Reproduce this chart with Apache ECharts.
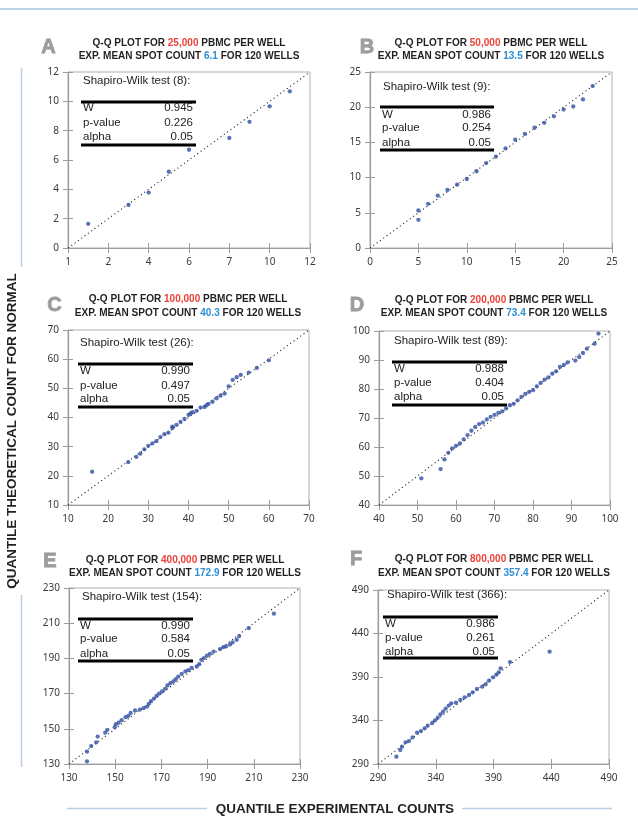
<!DOCTYPE html>
<html><head><meta charset="utf-8">
<script src="https://cdn.jsdelivr.net/npm/echarts@6/dist/echarts.min.js"></script>
<style>html,body{margin:0;padding:0;background:#fff}#c{width:638px;height:816px}</style>
</head><body><div id="c"></div>
<script>
// ---------- data ----------
const panelLetters = ['A','B','C','D','E','F'];
const cellsPerWell = ['25,000','50,000','100,000','200,000','400,000','800,000'];
const meanSpotCount = ['6.1','13.5','40.3','73.4','172.9','357.4'];
const wellCount = [120,120,120,120,120,120];
const swSize = [8,9,26,89,154,366];
const swW = ['0.945','0.986','0.990','0.988','0.990','0.986'];
const swP = ['0.226','0.254','0.497','0.404','0.584','0.261'];
const swAlpha = ['0.05','0.05','0.05','0.05','0.05','0.05'];
const axisMin = [0,0,10,40,130,290];
const axisMax = [12,25,70,100,230,490];
const axisStep = [2,5,10,10,20,50];
const xTickLabelsA = ['1','2','4','6','7','10','12'];

const expA = [1,3,4,5,6,8,9,10,11];
const theoA = [1.65,2.94,3.78,5.2,6.7,7.5,8.6,9.66,10.68];

const expB = [5,5,6,7,8,9,10,11,12,13,14,15,16,17,18,19,20,21,22,23];
const theoB = [4.0,5.33,6.27,7.45,8.25,9.0,9.8,10.9,12.07,12.97,14.15,15.38,16.2,17.08,17.78,18.7,19.67,20.1,21.1,23.0];

const expC = [16,25,27,28,29,30,31,32,33,34,35,36,36,37,38,39,40,40.5,41,42,43,44,44.5,45,46,47,48,49,50,51,52,53,55,57,60];
const theoC = [21.4,24.7,26.5,27.6,29.1,30.3,31.1,31.9,33.3,34.3,34.8,36.4,36.9,37.5,38.5,39.5,40.9,41.4,41.8,42.3,43.4,43.6,44.2,44.7,45.4,46.6,47.5,48.2,50.7,52.9,53.8,54.6,55.4,57,59.6];

const expD = [51,56,57,58,59,60,61,62,63,64,65,66,67,68,69,70,71,72,73,74,75,76,77,78,79,80,81,82,83,84,85,86,87,88,89,91,92,93,94,96,97];
const theoD = [49.2,52.4,55.7,58,59.5,60.4,61.2,62.6,64.1,65.6,66.9,67.9,68.4,69.5,70.4,71.1,71.8,72.3,73.3,74.4,74.9,76.1,77.3,78.3,79,79.6,80.9,82.1,83.2,84,85.3,86.1,87.6,88.3,89.2,89.8,91,92.4,93.9,95.6,99.1];

const expE = [137.8,137.8,139.6,141.8,142.4,145.7,146.6,149.8,150.3,151.5,152.8,154.5,155.7,156.7,158.6,160.7,162.3,163.8,164.6,165.5,166.8,167.9,169,170.3,171.6,172.6,173.9,175.2,176.2,177.3,178.8,180.4,181.7,183.1,185.3,186.4,187.3,188.4,189.7,191,192.6,195.4,196.8,198,199.7,200.8,202.6,203.7,207.8,218.7];
const theoE = [131.5,137,140.2,142.3,145.6,147.8,149.4,150.9,152.6,153.5,154.9,156.6,157.4,159,160.4,160.9,161.7,162.6,164.2,165.7,167.2,168.7,170,171.2,172.7,174.6,175.9,176.9,178.2,179.7,181.2,182.6,183.3,184.6,185.4,186.7,189.2,190.2,191.5,192.6,193.9,195.3,196.4,196.8,197.9,199.1,200.6,202.7,207.2,215.4];

const expF = [305.9,309.3,310.8,313.9,316.8,320,323.8,327.2,330.4,333,337,339.4,341.7,344,346.3,348.6,351.2,353.5,357.5,361.3,365,368.8,372,375.7,380.3,383.2,386.1,389.6,392.5,394.5,396.2,404.3,438.6];
const theoF = [298.4,306.1,309.9,314.9,316.4,320.7,326,327.9,331,334.1,337.1,340.2,343.3,347.1,350.2,353.6,357.1,359.7,360.5,363.6,366.6,369.3,372.4,376.2,378.9,381.6,385.8,389.6,392.7,395.4,400,407.2,419.1];

const expAll = [expA,expB,expC,expD,expE,expF];
const theoAll = [theoA,theoB,theoC,theoD,theoE,theoF];

const yAxisTitle = 'QUANTILE THEORETICAL COUNT FOR NORMAL';
const xAxisTitle = 'QUANTILE EXPERIMENTAL COUNTS';

// ---------- layout ----------
const grids = [
  {left:68, top:72, width:242, height:176},
  {left:370, top:72, width:242, height:176},
  {left:68, top:330, width:241, height:175},
  {left:379, top:331, width:231, height:174},
  {left:69, top:588, width:231, height:176},
  {left:378, top:590, width:231, height:174}
];
const letterPos = [[48.5,47.5],[367,47.5],[54.5,305],[357,305],[50,561],[356,559]];
const titlePos = [[189,43,56],[491,43,56],[188,299,313],[494,300,313],[185,560,573],[494,559,573]];
const tablePos = [
  {tx:83, ty:81, top:102, bot:145, x1:81, x2:196, rows:[108,123,137]},
  {tx:383, ty:87, top:107, bot:150, x1:380, x2:494, rows:[115,128,143]},
  {tx:80, ty:343, top:364, bot:407, x1:78, x2:193, rows:[371,386,399]},
  {tx:394, ty:341, top:362, bot:405, x1:392, x2:507, rows:[369,383,397]},
  {tx:82, ty:597, top:619, bot:661, x1:78, x2:193, rows:[626,639,654]},
  {tx:387, ty:595, top:617, bot:658, x1:383, x2:498, rows:[624,638,652]}
];

const RED = '#ec4138', BLUE = '#2b8fd3', DOT = '#2f4ea3', AX = '#9c9c9c';
const tickFont = 'Noto Sans';
const tf = 'bold 11.5px "Liberation Sans", Arial, sans-serif';
// horizontal condensing factor so the title matches the narrow typeface of the original
const mctx = document.createElement('canvas').getContext('2d');
mctx.font = tf;
const titleScale = 193 / mctx.measureText('Q-Q PLOT FOR 25,000 PBMC PER WELL').width;

function baseAxis(i, isX) {
  return {
    type:'value', gridIndex:i, min:axisMin[i], max:axisMax[i], interval:axisStep[i],
    position: isX ? 'bottom' : 'left',
    axisLine:{show:true, onZero:false, lineStyle:{color:AX, width:1.2}},
    axisTick:{show:true, length:5, lineStyle:{color:AX, width:1}},
    splitLine:{show:false},
    axisLabel:{fontSize:10, color:'#3a3a3a', margin:9, fontFamily:tickFont,
      formatter: (isX && i===0) ? (v => xTickLabelsA[Math.round((v-axisMin[0])/axisStep[0])]) : (v => String(v))}
  };
}
function innerTickAxis(i, isX) {
  return {
    type:'value', gridIndex:i, min:axisMin[i], max:axisMax[i], interval:axisStep[i],
    position: isX ? 'bottom' : 'left',
    axisLine:{show:false}, splitLine:{show:false}, axisLabel:{show:false},
    axisTick:{show:true, inside:true, length:5, lineStyle:{color:AX, width:1}}
  };
}

const option = {
  animation:false,
  backgroundColor:'#fff',
  grid: grids.map(g => Object.assign({show:true, borderColor:'#b0b0b0', borderWidth:1, backgroundColor:'transparent'}, g)),
  xAxis: grids.map((g,i) => baseAxis(i,true)).concat(grids.map((g,i) => innerTickAxis(i,true))),
  yAxis: grids.map((g,i) => baseAxis(i,false)).concat(grids.map((g,i) => innerTickAxis(i,false))),
  series: [],
  graphic: []
};

grids.forEach((g,i) => {
  option.series.push({
    type:'line', xAxisIndex:i, yAxisIndex:i, symbol:'none', silent:true,
    data:[[axisMin[i],axisMin[i]],[axisMax[i],axisMax[i]]],
    lineStyle:{color:'#222', width:1.1, type:[1.1,3]}, z:1
  });
  option.series.push({
    type:'scatter', xAxisIndex:i, yAxisIndex:i, symbolSize:4.3,
    itemStyle:{color:DOT},
    data: expAll[i].map((x,k) => [x, theoAll[i][k]]), z:3
  });
  // letter
  option.graphic.push({type:'text', x:letterPos[i][0], y:letterPos[i][1],
    style:{text:panelLetters[i], fill:'#9d9d9d', font:'bold 20px "Liberation Sans", Arial, sans-serif', align:'center', verticalAlign:'middle',
      stroke:'#949494', lineWidth:0.8}});
  // titles
  const rich = {a:{fill:'#231f20', font:tf}, r:{fill:RED, font:tf}, b:{fill:BLUE, font:tf}};
  option.graphic.push({type:'text', x:titlePos[i][0], y:titlePos[i][1], scaleX:titleScale,
    style:{text:'{a|Q-Q PLOT FOR }{r|'+cellsPerWell[i]+'}{a| PBMC PER WELL}', rich:rich, font:tf, align:'center', verticalAlign:'middle'}});
  option.graphic.push({type:'text', x:titlePos[i][0], y:titlePos[i][2], scaleX:titleScale,
    style:{text:'{a|EXP. MEAN SPOT COUNT }{b|'+meanSpotCount[i]+'}{a| FOR '+wellCount[i]+' WELLS}', rich:rich, font:tf, align:'center', verticalAlign:'middle'}});
  // table
  const t = tablePos[i];
  const f = '11.5px "Liberation Sans", Arial, sans-serif';
  option.graphic.push({type:'text', x:t.tx, y:t.ty, z:10,
    style:{text:'Shapiro-Wilk test ('+swSize[i]+'):', fill:'#222', font:f, align:'left', verticalAlign:'middle'}});
  option.graphic.push({type:'rect', z:10, shape:{x:t.x1, y:t.top-1.5, width:t.x2-t.x1, height:3}, style:{fill:'#000'}});
  option.graphic.push({type:'rect', z:10, shape:{x:t.x1, y:t.bot-1.5, width:t.x2-t.x1, height:3}, style:{fill:'#000'}});
  const labels = ['W','p-value','alpha'];
  const vals = [swW[i], swP[i], swAlpha[i]];
  labels.forEach((lb,k) => {
    option.graphic.push({type:'text', z:10, x:t.x1+2, y:t.rows[k], style:{text:lb, fill:'#222', font:f, align:'left', verticalAlign:'middle'}});
    option.graphic.push({type:'text', z:10, x:t.x2-3, y:t.rows[k], style:{text:vals[k], fill:'#222', font:f, align:'right', verticalAlign:'middle'}});
  });
});

// decorations & axis titles
const LB = '#b9cfe8';
option.graphic.push({type:'line', shape:{x1:0,y1:9,x2:638,y2:9}, style:{stroke:'#a9c5e6', lineWidth:1.5}});
option.graphic.push({type:'line', shape:{x1:21.5,y1:68,x2:21.5,y2:267}, style:{stroke:LB, lineWidth:1.5}});
option.graphic.push({type:'line', shape:{x1:21.5,y1:595,x2:21.5,y2:767}, style:{stroke:LB, lineWidth:1.5}});
option.graphic.push({type:'line', shape:{x1:67,y1:808.5,x2:207,y2:808.5}, style:{stroke:LB, lineWidth:1.5}});
option.graphic.push({type:'line', shape:{x1:462,y1:808.5,x2:612,y2:808.5}, style:{stroke:LB, lineWidth:1.5}});
option.graphic.push({type:'text', x:12, y:431, rotation:Math.PI/2,
  style:{text:yAxisTitle, fill:'#231f20', font:'bold 13.5px "Liberation Sans", Arial, sans-serif', align:'center', verticalAlign:'middle'}});
option.graphic.push({type:'text', x:335, y:809,
  style:{text:xAxisTitle, fill:'#231f20', font:'bold 13.5px "Liberation Sans", Arial, sans-serif', align:'center', verticalAlign:'middle'}});

const chart = echarts.init(document.getElementById('c'), null, {renderer:'canvas'});
chart.setOption(option);
</script>
</body></html>
